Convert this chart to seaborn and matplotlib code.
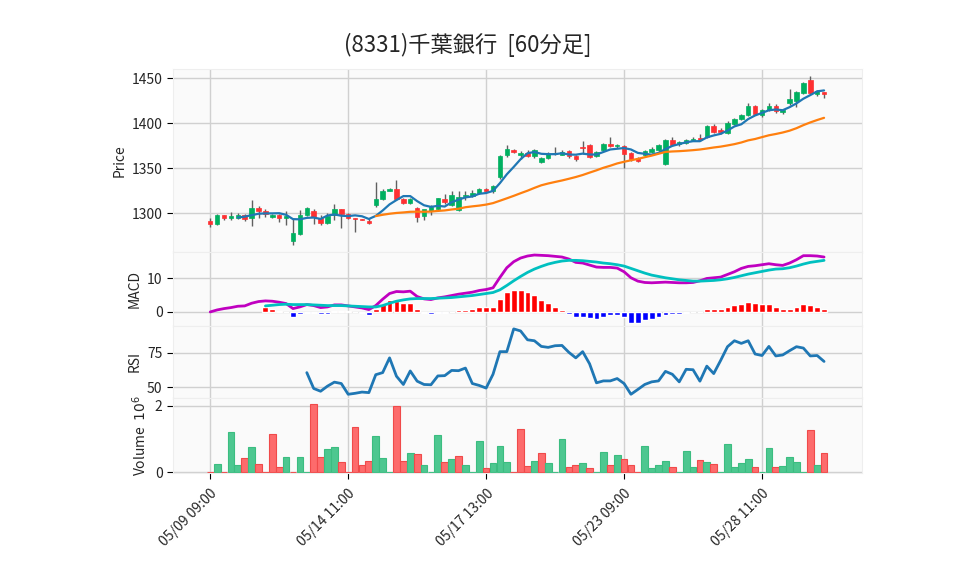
import numpy as np
import pandas as pd
import matplotlib
matplotlib.use('Agg')
import matplotlib.pyplot as plt
import seaborn as sns

# 60-minute bars, 05/09 09:00 .. 05/29 14:00
opens = [1291, 1288, 1298, 1294, 1295, 1298, 1294, 1306, 1302, 1296,
         1298, 1294, 1269, 1277, 1298, 1302, 1294, 1289, 1298, 1304,
         1299, 1294, 1293, 1291, 1309, 1316, 1325, 1327, 1316, 1311,
         1306, 1297, 1302, 1304, 1316, 1309, 1303, 1319, 1319, 1322,
         1327, 1324, 1340, 1364, 1370, 1364, 1367, 1363, 1357, 1361,
         1366, 1365, 1369, 1363, 1373, 1376, 1363, 1370, 1377, 1374,
         1374, 1367, 1361, 1365, 1368, 1370, 1355, 1381, 1377, 1378,
         1381, 1383, 1384, 1397, 1392, 1389, 1399, 1404, 1409, 1419,
         1409, 1414, 1419, 1412, 1422, 1425, 1433, 1448, 1432, 1434]
highs = [1295, 1299, 1298, 1301, 1300, 1299, 1314, 1308, 1304, 1299,
         1299, 1302, 1294, 1303, 1307, 1304, 1298, 1300, 1310, 1305,
         1300, 1294, 1293, 1295, 1334, 1327, 1328, 1337, 1317, 1317,
         1307, 1303, 1309, 1317, 1321, 1325, 1325, 1325, 1326, 1328,
         1328, 1331, 1364, 1376, 1371, 1369, 1370, 1371, 1362, 1368,
         1373, 1370, 1370, 1364, 1380, 1377, 1369, 1378, 1384, 1377,
         1376, 1368, 1362, 1370, 1373, 1377, 1382, 1385, 1380, 1382,
         1384, 1388, 1398, 1399, 1395, 1402, 1406, 1410, 1422, 1420,
         1416, 1422, 1421, 1416, 1438, 1436, 1446, 1452, 1437, 1435]
lows = [1284, 1287, 1292, 1292, 1293, 1291, 1286, 1294, 1296, 1294,
        1290, 1287, 1265, 1276, 1297, 1288, 1287, 1288, 1292, 1283,
        1293, 1279, 1292, 1288, 1307, 1314, 1324, 1315, 1310, 1310,
        1290, 1292, 1298, 1303, 1310, 1308, 1302, 1314, 1318, 1321,
        1323, 1322, 1338, 1362, 1367, 1360, 1362, 1361, 1356, 1360,
        1364, 1364, 1361, 1358, 1366, 1361, 1362, 1369, 1373, 1372,
        1350, 1358, 1357, 1363, 1367, 1369, 1353, 1375, 1375, 1377,
        1380, 1380, 1383, 1389, 1388, 1388, 1398, 1403, 1408, 1409,
        1407, 1413, 1411, 1410, 1420, 1418, 1432, 1432, 1430, 1428]
closes = [1288, 1298, 1294, 1297, 1298, 1293, 1306, 1302, 1299, 1298,
          1294, 1297, 1278, 1298, 1306, 1296, 1289, 1297, 1304, 1299,
          1294, 1293, 1292, 1289, 1316, 1324, 1327, 1316, 1311, 1316,
          1296, 1304, 1307, 1317, 1312, 1320, 1318, 1320, 1322, 1327,
          1324, 1330, 1363, 1371, 1368, 1367, 1363, 1370, 1361, 1366,
          1367, 1368, 1363, 1360, 1372, 1362, 1368, 1377, 1374, 1376,
          1366, 1360, 1358, 1369, 1371, 1376, 1381, 1376, 1379, 1381,
          1382, 1381, 1397, 1390, 1390, 1400, 1404, 1409, 1419, 1410,
          1414, 1419, 1413, 1415, 1427, 1435, 1445, 1433, 1436, 1432]
# volume in millions of shares
volume_m = [0.00, 0.25, 0.00, 1.21, 0.22, 0.43, 0.77, 0.25, 0.00, 1.16,
            0.15, 0.46, 0.00, 0.46, 0.00, 2.06, 0.46, 0.71, 0.77, 0.31,
            0.00, 1.38, 0.22, 0.34, 1.08, 0.43, 0.00, 2.00, 0.34, 0.59,
            0.56, 0.22, 0.00, 1.11, 0.31, 0.40, 0.49, 0.22, 0.00, 0.93,
            0.12, 0.28, 0.80, 0.31, 0.00, 1.30, 0.19, 0.34, 0.59, 0.28,
            0.00, 0.99, 0.15, 0.22, 0.28, 0.12, 0.00, 0.62, 0.22, 0.53,
            0.40, 0.22, 0.00, 0.80, 0.12, 0.22, 0.34, 0.15, 0.00, 0.65,
            0.15, 0.37, 0.31, 0.25, 0.00, 0.84, 0.15, 0.28, 0.40, 0.15,
            0.00, 0.74, 0.15, 0.19, 0.46, 0.31, 0.00, 1.27, 0.22, 0.59]
macd_line = [0.0, 0.6, 1.0, 1.3, 1.7, 1.8, 2.6, 3.1, 3.3, 3.2,
             2.9, 2.5, 1.0, 1.5, 2.2, 1.9, 1.3, 1.5, 2.1, 2.1,
             1.8, 1.5, 1.2, 0.7, 1.9, 3.8, 5.5, 6.1, 6.0, 6.2,
             4.6, 3.9, 3.7, 4.2, 4.5, 4.9, 5.3, 5.6, 5.9, 6.4,
             6.7, 7.2, 10.3, 13.2, 15.0, 16.1, 16.7, 17.0, 16.9, 16.8,
             16.6, 16.4, 15.8, 14.8, 14.6, 14.0, 13.4, 13.3, 13.3, 13.1,
             12.0, 10.2, 9.2, 8.8, 8.7, 8.8, 8.9, 8.8, 8.7, 8.7,
             8.8, 9.3, 10.0, 10.2, 10.4, 11.2, 12.0, 13.0, 13.6, 13.8,
             14.1, 14.4, 14.1, 13.9, 14.6, 15.6, 16.8, 16.8, 16.7, 16.4]
signal_line = [np.nan] * 8 + [
    1.8, 2.0, 2.2, 2.3, 2.2, 2.2, 2.2, 2.1, 2.0, 1.9, 1.9, 1.9,
    1.8, 1.7, 1.6, 1.5, 1.5, 1.9, 2.6, 3.2, 3.6, 3.9, 4.0, 4.0,
    4.0, 4.1, 4.2, 4.3, 4.5, 4.7, 4.9, 5.2, 5.5, 5.8, 6.6, 7.9,
    9.3, 10.6, 11.8, 12.8, 13.6, 14.3, 14.8, 15.2, 15.4, 15.4, 15.3, 15.1,
    14.9, 14.6, 14.4, 14.1, 13.7, 13.0, 12.3, 11.6, 11.0, 10.6, 10.2, 9.9,
    9.6, 9.4, 9.2, 9.2, 9.3, 9.4, 9.6, 9.9, 10.3, 10.8, 11.3, 11.7,
    12.1, 12.5, 12.8, 12.9, 13.2, 13.7, 14.3, 14.8, 15.1, 15.4]
macd_hist = [np.nan] * 8 + [
    1.5, 0.8, 0.3, 0.1, -1.4, -0.7, -0.3, -0.3, -0.7, -0.5, 0.3, 0.3,
    0.2, -0.1, -0.4, -0.9, 0.8, 2.5, 3.6, 3.3, 2.8, 2.8, 1.0, -0.2,
    -0.7, -0.3, -0.3, 0.05, 0.6, 0.6, 0.9, 1.5, 1.5, 1.5, 4.0, 5.9,
    6.7, 6.7, 5.9, 5.2, 3.6, 2.7, 1.5, 0.6, -0.5, -1.4, -1.4, -1.7,
    -2.0, -1.4, -1.0, -1.0, -1.4, -3.2, -3.2, -2.5, -2.0, -1.4, -0.9, -0.7,
    -0.5, -0.3, -0.05, 0.05, 1.0, 1.0, 1.0, 1.6, 2.0, 2.5, 3.0, 2.7,
    2.5, 2.5, 1.6, 1.0, 1.0, 1.6, 2.5, 2.1, 1.5, 1.0]
rsi_vals = [np.nan] * 14 + [
    60.5, 49.0, 47.0, 50.7, 53.6, 52.6, 44.8, 45.5, 46.4, 46.0,
    59.0, 60.5, 71.2, 57.9, 51.9, 61.7, 54.3, 51.9, 51.7, 58.1,
    58.3, 62.1, 61.9, 63.8, 52.6, 51.2, 49.3, 59.3, 75.7, 75.7,
    92.2, 90.7, 84.3, 83.6, 79.5, 78.8, 80.0, 80.2, 75.2, 71.2,
    75.7, 66.9, 53.1, 54.5, 54.5, 56.2, 52.6, 44.8, 48.3, 51.9,
    53.8, 54.5, 61.4, 59.3, 53.8, 62.9, 62.6, 54.3, 65.2, 59.8,
    69.3, 79.3, 83.6, 81.7, 83.6, 74.0, 72.9, 79.5, 72.6, 73.3,
    76.4, 79.3, 78.3, 72.6, 72.9, 68.6]
tick_pos = [0, 20, 40, 60, 80]
tick_labels = ['05/09 09:00', '05/14 11:00', '05/17 13:00', '05/23 09:00', '05/28 11:00']

df = pd.DataFrame({'x': np.arange(len(closes)), 'open': opens, 'high': highs,
                   'low': lows, 'close': closes, 'volume': volume_m,
                   'macd': macd_line, 'signal': signal_line, 'hist': macd_hist,
                   'rsi': rsi_vals})
df['ma5'] = df['close'].rolling(5).mean()
df['ma25'] = df['close'].rolling(25).mean()

sns.set_style('ticks')
plt.rcParams['font.family'] = ['Noto Sans CJK JP', 'DejaVu Sans']
plt.rcParams['axes.unicode_minus'] = False

UP, DOWN = '#00b060', '#fe3032'
GRID = '#d0d0d0'

fig = plt.figure(figsize=(9.58, 5.75), dpi=100)
L, W = 173 / 958, (862 - 173) / 958
def panel(top, bottom):
    return fig.add_axes([L, 1 - bottom / 575, W, (bottom - top) / 575])
ax_p = panel(69, 252)
ax_m = panel(252, 326)
ax_r = panel(326, 398)
ax_v = panel(398, 473)
axes = [ax_p, ax_m, ax_r, ax_v]

# candles
up = df['close'] >= df['open']
body = (df['close'] - df['open']).abs().clip(lower=0.5)
ax_p.vlines(df['x'], df['low'], df['high'], color='#606060', lw=1.0, zorder=2)
ax_p.bar(df['x'], body, bottom=df[['open', 'close']].min(axis=1), width=0.65,
         color=np.where(up, UP, DOWN), edgecolor=np.where(up, UP, DOWN),
         lw=0.5, zorder=3)
sns.lineplot(data=df, x='x', y='ma5', ax=ax_p, color='#1f77b4', lw=1.6, zorder=4)
sns.lineplot(data=df, x='x', y='ma25', ax=ax_p, color='#ff7f0e', lw=1.6, zorder=4)

# MACD
hcol = np.where(df['hist'] >= 0, '#ff0000', '#0000ff')
ax_m.bar(df['x'], df['hist'], width=0.85, color=hcol, zorder=2)
sns.lineplot(data=df, x='x', y='macd', ax=ax_m, color='#c000c0', lw=2, zorder=3)
sns.lineplot(data=df, x='x', y='signal', ax=ax_m, color='#00c0c0', lw=2, zorder=3)

# RSI
sns.lineplot(data=df, x='x', y='rsi', ax=ax_r, color='#1f77b4', lw=2, zorder=3)

# volume, coloured by close vs previous close
vup = df['close'] >= df['close'].shift(1)
ax_v.bar(df['x'], df['volume'], width=0.98,
         color=np.where(vup, '#4dc790', '#fd6b6c'),
         edgecolor=np.where(vup, '#3bbd80', '#f04a4a'), lw=0.8, zorder=2)

ax_p.set_ylim(1256.7, 1460)
ax_p.set_yticks([1300, 1350, 1400, 1450])
ax_m.set_ylim(-4.2, 17.9)
ax_m.set_yticks([0, 10])
ax_r.set_ylim(42.1, 94.3)
ax_r.set_yticks([50, 75])
ax_v.set_ylim(-0.02, 2.24)
ax_v.set_yticks([0, 2])

ax_p.set_ylabel('Price', fontsize=10)
ax_m.set_ylabel('MACD', fontsize=10)
ax_r.set_ylabel('RSI', fontsize=10)
ax_v.set_ylabel('Volume  $10^{6}$', fontsize=10)

for ax in axes:
    ax.set_facecolor('#fafafa')
    ax.set_xlim(-5.4, 94.5)
    ax.set_xticks(tick_pos)
    ax.grid(True, color=GRID, lw=1, zorder=0)
    ax.set_axisbelow(True)
    for s in ax.spines.values():
        s.set_color('#eeeeee')
    ax.tick_params(axis='y', labelsize=10, length=4, color='black')
    ax.set_xlabel('')
for ax in axes[:-1]:
    ax.tick_params(axis='x', length=0, labelbottom=False)
ax_v.set_xticklabels(tick_labels, rotation=45, ha='right',
                     rotation_mode='anchor', fontsize=10)
ax_v.tick_params(axis='x', length=4, color='black', pad=6)

fig.text(468 / 958, 1 - 45 / 575, '(8331)千葉銀行  [60分足]', ha='center',
         va='center', fontsize=16)

fig.savefig('out.png', dpi=100)
